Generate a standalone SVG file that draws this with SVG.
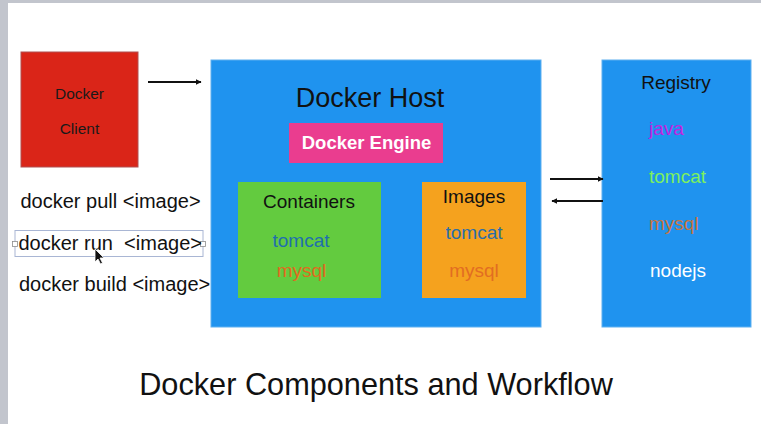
<svg xmlns="http://www.w3.org/2000/svg" width="761" height="424" viewBox="0 0 761 424">
<style>
text{font-family:"Liberation Sans",Arial,Helvetica,sans-serif}
.cmd{font-size:20px;fill:#111}
.lbl{font-size:19px}
.box{stroke-width:1}
.conn{stroke:#111;stroke-width:2;fill:none}
</style>
<defs>
<marker id="ah" viewBox="0 0 10 10" refX="9" refY="5" markerWidth="6" markerHeight="6" orient="auto-start-reverse" markerUnits="userSpaceOnUse">
<path d="M0,0 L10,5 L0,10 z" fill="#111"/>
</marker>
</defs>
<rect x="0" y="0" width="761" height="424" fill="#ffffff"/>
<rect x="0" y="0" width="761" height="3" fill="#c2c5cd"/>
<rect x="0" y="0" width="8" height="424" fill="#c2c5cd"/>

<g id="client">
<rect x="21" y="52" width="117" height="115" fill="#da2518" stroke="#b05050" class="box"/>
<text x="79.5" y="99" font-size="15.5" text-anchor="middle" fill="#1a1a1a">Docker</text>
<text x="79.5" y="134" font-size="15.5" text-anchor="middle" fill="#1a1a1a">Client</text>
</g>

<g id="commands">
<text class="cmd" x="20.5" y="208">docker pull &lt;image&gt;</text>
<rect x="15" y="230.5" width="188" height="26" fill="none" stroke="#a9b6d4" stroke-width="1"/>
<rect x="12.5" y="241.5" width="5" height="5" fill="#fff" stroke="#8d8d8d" stroke-width="0.8"/>
<rect x="200.5" y="241.5" width="5" height="5" fill="#fff" stroke="#8d8d8d" stroke-width="0.8"/>
<text class="cmd" x="18.5" y="250" xml:space="preserve">docker run  &lt;image&gt;</text>
<text class="cmd" x="19" y="291">docker build &lt;image&gt;</text>
<path d="M95,249 L95,262 L98,259 L100.5,264 L102.5,263 L100,258 L104,258 z" fill="#111" stroke="#fff" stroke-width="0.8"/>
</g>

<g id="host">
<rect x="211" y="60" width="330" height="267" fill="#1f93ef" stroke="#5fb0f0" class="box"/>
<text x="370" y="107" font-size="27" text-anchor="middle" fill="#111">Docker Host</text>
</g>

<g id="engine">
<rect x="289" y="123" width="154" height="40" fill="#ea3d8f"/>
<text x="366.5" y="149" font-size="18.5" font-weight="bold" text-anchor="middle" fill="#fff">Docker Engine</text>
</g>

<g id="containers">
<rect x="238" y="182" width="143" height="116" fill="#63cb3f"/>
<text class="lbl" x="309" y="208" text-anchor="middle" fill="#111">Containers</text>
<text class="lbl" x="301" y="247" text-anchor="middle" fill="#1f6fae">tomcat</text>
<text class="lbl" x="301.5" y="277" text-anchor="middle" fill="#e2691e">mysql</text>
</g>

<g id="images">
<rect x="422" y="182" width="104" height="116" fill="#f5a21e"/>
<text class="lbl" x="474" y="203" text-anchor="middle" fill="#111">Images</text>
<text class="lbl" x="474" y="239" text-anchor="middle" fill="#2b6ea8">tomcat</text>
<text class="lbl" x="474" y="277" text-anchor="middle" fill="#e26d22">mysql</text>
</g>

<g id="registry">
<rect x="602" y="60" width="149" height="267" fill="#1f93ef" stroke="#5fb0f0" class="box"/>
<text class="lbl" x="676" y="89" text-anchor="middle" fill="#111">Registry</text>
<text class="lbl" x="649" y="135" fill="#c225e0">java</text>
<text class="lbl" x="649" y="183" fill="#7df05e">tomcat</text>
<text class="lbl" x="649" y="230" fill="#c8733f">mysql</text>
<text class="lbl" x="650" y="277" fill="#ffffff">nodejs</text>
</g>

<g id="connectors">
<line class="conn" x1="148" y1="82" x2="201" y2="82" marker-end="url(#ah)"/>
<line class="conn" x1="550" y1="179" x2="603" y2="179" marker-end="url(#ah)"/>
<line class="conn" x1="603" y1="201" x2="552" y2="201" marker-end="url(#ah)"/>
</g>

<text x="376" y="395" font-size="30.7" text-anchor="middle" fill="#111">Docker Components and Workflow</text>
</svg>
